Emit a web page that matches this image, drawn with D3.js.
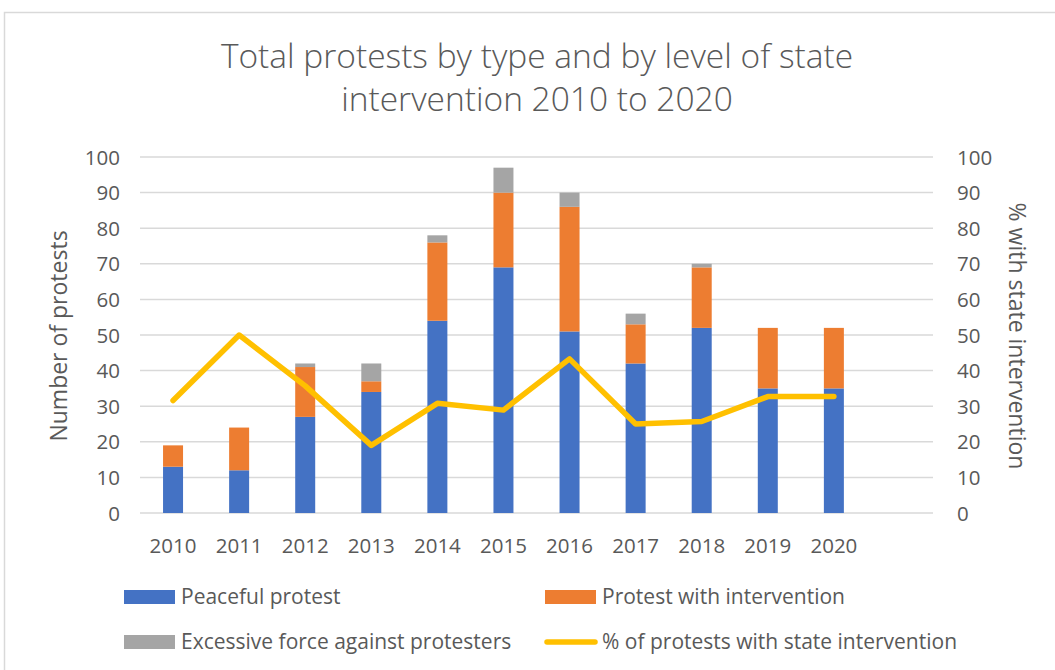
<!DOCTYPE html>
<html>
<head>
<meta charset="utf-8">
<script src="https://cdn.jsdelivr.net/npm/d3@7"></script>
<style>
  body { margin: 0; background: #fff; }
  svg text { font-family: "Open Sans", sans-serif; fill: #595959; }
</style>
</head>
<body>
<svg id="chart" width="1055" height="670"></svg>
<script>
const years = ["2010", "2011", "2012", "2013", "2014", "2015", "2016", "2017", "2018", "2019", "2020"];
const peaceful = [13, 12, 27, 34, 54, 69, 51, 42, 52, 35, 35];
const withIntervention = [6, 12, 14, 3, 22, 21, 35, 11, 17, 17, 17];
const excessiveForce = [0, 0, 1, 5, 2, 7, 4, 3, 1, 0, 0];
const pctIntervention = [31.6, 50, 35.7, 19, 30.8, 28.9, 43.3, 25, 25.7, 32.7, 32.7];
const yTicks = [0, 10, 20, 30, 40, 50, 60, 70, 80, 90, 100];

const seriesNames = ["Peaceful protest", "Protest with intervention", "Excessive force against protesters"];
const colors = ["#4472C4", "#ED7D31", "#A5A5A5"];
const lineColor = "#FFC000";

const plot = { left: 140, right: 933, top: 157, bottom: 513 };
const step = (plot.right - plot.left) / 12;   // excel leaves one empty slot at the end
const pad = 1 - 20 / step;

const svg = d3.select("#chart");

// outer chart border (runs off the right/bottom of the capture)
svg.append("rect")
    .attr("x", 4.5).attr("y", 12.5)
    .attr("width", 1100).attr("height", 700)
    .attr("fill", "none").attr("stroke", "#d9d9d9").attr("stroke-width", 1.5);

const x = d3.scaleBand()
    .domain(years)
    .range([plot.left, plot.left + years.length * step])
    .paddingInner(pad)
    .paddingOuter(pad / 2);

const y = d3.scaleLinear().domain([0, 100]).range([plot.bottom, plot.top]);
const y2 = d3.scaleLinear().domain([0, 100]).range([plot.bottom, plot.top]);

// gridlines
svg.append("g")
    .selectAll("line")
    .data(yTicks)
    .join("line")
    .attr("x1", plot.left).attr("x2", plot.right)
    .attr("y1", d => y(d)).attr("y2", d => y(d))
    .attr("stroke", "#d9d9d9").attr("stroke-width", 1.5);

// left axis labels
const yAxis = svg.append("g")
    .attr("transform", "translate(" + (plot.left - 20) + ",0)")
    .call(d3.axisLeft(y).tickValues(yTicks).tickSize(0).tickPadding(0));
yAxis.select(".domain").remove();
yAxis.selectAll("text").attr("font-size", 20.5).attr("dy", "0.35em").style("fill", "#595959");

// right axis labels
const yAxis2 = svg.append("g")
    .attr("transform", "translate(" + (plot.right + 24) + ",0)")
    .call(d3.axisRight(y2).tickValues(yTicks).tickSize(0).tickPadding(0));
yAxis2.select(".domain").remove();
yAxis2.selectAll("text").attr("font-size", 20.5).attr("dy", "0.35em").style("fill", "#595959");

// stacked bars
const table = years.map((yr, i) => ({
    year: yr,
    peaceful: peaceful[i],
    intervention: withIntervention[i],
    excessive: excessiveForce[i]
}));
const stack = d3.stack().keys(["peaceful", "intervention", "excessive"])(table);

svg.append("g")
    .selectAll("g")
    .data(stack)
    .join("g")
    .attr("fill", (d, i) => colors[i])
    .selectAll("rect")
    .data(d => d)
    .join("rect")
    .attr("x", d => x(d.data.year))
    .attr("width", x.bandwidth())
    .attr("y", d => y(d[1]))
    .attr("height", d => y(d[0]) - y(d[1]));

// x axis labels
const xAxis = svg.append("g")
    .attr("transform", "translate(0," + plot.bottom + ")")
    .call(d3.axisBottom(x).tickSize(0).tickPadding(0));
xAxis.select(".domain").remove();
xAxis.selectAll("text").attr("font-size", 20.5).attr("y", 40).attr("dy", 0).style("fill", "#595959");

// % line
const line = d3.line()
    .x((d, i) => x(years[i]) + x.bandwidth() / 2)
    .y(d => y2(d));

svg.append("path")
    .datum(pctIntervention)
    .attr("d", line)
    .attr("fill", "none")
    .attr("stroke", lineColor)
    .attr("stroke-width", 5.5)
    .attr("stroke-linejoin", "round")
    .attr("stroke-linecap", "round");

// title
const title = svg.append("text")
    .attr("text-anchor", "middle")
    .attr("font-size", 33.5)
    .attr("font-weight", 300);
title.append("tspan").attr("x", 537).attr("y", 68).text("Total protests by type and by level of state");
title.append("tspan").attr("x", 537).attr("y", 111).text("intervention 2010 to 2020");

// axis titles
svg.append("text")
    .attr("transform", "translate(67,336) rotate(-90)")
    .attr("text-anchor", "middle")
    .attr("font-size", 23)
    .text("Number of protests");

svg.append("text")
    .attr("transform", "translate(1009,336) rotate(90)")
    .attr("text-anchor", "middle")
    .attr("font-size", 23)
    .text("% with state intervention");

// legend
const legendItems = [
    { name: seriesNames[0], color: colors[0], type: "rect", x: 124, y: 597 },
    { name: seriesNames[1], color: colors[1], type: "rect", x: 545, y: 597 },
    { name: seriesNames[2], color: colors[2], type: "rect", x: 124, y: 642 },
    { name: "% of protests with state intervention", color: lineColor, type: "line", x: 545, y: 642 }
];

const legend = svg.append("g")
    .selectAll("g")
    .data(legendItems)
    .join("g")
    .attr("transform", d => "translate(" + d.x + "," + d.y + ")");

legend.filter(d => d.type === "rect")
    .append("rect")
    .attr("x", 0).attr("y", -7)
    .attr("width", 51).attr("height", 14)
    .attr("fill", d => d.color);

legend.filter(d => d.type === "line")
    .append("line")
    .attr("x1", 2).attr("x2", 50)
    .attr("stroke", d => d.color)
    .attr("stroke-width", 5.5)
    .attr("stroke-linecap", "round");

legend.append("text")
    .attr("x", 57)
    .attr("y", 0)
    .attr("dy", "0.35em")
    .attr("font-size", 21)
    .text(d => d.name);
</script>
</body>
</html>
